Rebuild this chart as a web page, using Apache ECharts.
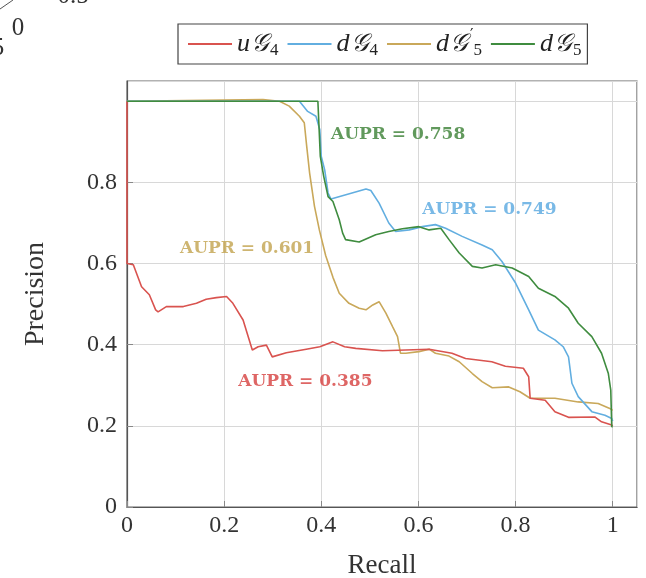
<!DOCTYPE html>
<html><head><meta charset="utf-8">
<script src="https://cdn.jsdelivr.net/npm/echarts@6/dist/echarts.min.js"></script>
<style>html,body{margin:0;padding:0;background:#fff}#c{width:646px;height:578px}</style>
</head><body><div id="c"></div>
<script>
const seriesNames = ['uG4', 'dG4', 'dG5p', 'dG5'];
const xTicks = [0, 0.2, 0.4, 0.6, 0.8, 1];
const yTicks = [0, 0.2, 0.4, 0.6, 0.8];
const aupr = [0.385, 0.749, 0.601, 0.758];
const auprPos = [[0.229, 0.31], [0.608, 0.733], [0.109, 0.638], [0.42, 0.917]];

const uG4 = [[0,1.0],[0,0.60],[0.013,0.597],[0.030,0.543],[0.046,0.523],[0.059,0.486],[0.064,0.481],[0.081,0.494],[0.116,0.494],[0.143,0.502],[0.163,0.512],[0.184,0.516],[0.205,0.519],[0.218,0.502],[0.239,0.461],[0.258,0.387],[0.270,0.395],[0.287,0.399],[0.299,0.370],[0.328,0.380],[0.369,0.389],[0.397,0.395],[0.424,0.407],[0.448,0.395],[0.471,0.391],[0.526,0.385],[0.574,0.387],[0.622,0.389],[0.669,0.379],[0.697,0.366],[0.751,0.358],[0.779,0.347],[0.816,0.342],[0.827,0.321],[0.830,0.268],[0.861,0.263],[0.881,0.235],[0.909,0.221],[0.963,0.222],[0.977,0.210],[0.998,0.202],[1.0,0.200]];
const dG4 = [[0,1.0],[0.355,1.0],[0.372,0.975],[0.389,0.963],[0.397,0.930],[0.400,0.864],[0.407,0.831],[0.414,0.774],[0.420,0.759],[0.424,0.761],[0.492,0.784],[0.502,0.780],[0.519,0.749],[0.539,0.700],[0.553,0.679],[0.581,0.683],[0.608,0.691],[0.635,0.696],[0.656,0.687],[0.690,0.667],[0.731,0.646],[0.752,0.634],[0.772,0.605],[0.800,0.552],[0.827,0.486],[0.847,0.436],[0.881,0.412],[0.898,0.395],[0.909,0.370],[0.916,0.305],[0.929,0.272],[0.957,0.235],[0.984,0.226],[0.998,0.218],[1.0,0.212]];
const dG5p = [[0,1.0],[0.280,1.004],[0.314,1.0],[0.334,0.988],[0.355,0.963],[0.365,0.947],[0.370,0.889],[0.376,0.823],[0.386,0.741],[0.396,0.683],[0.409,0.620],[0.424,0.566],[0.437,0.527],[0.457,0.502],[0.478,0.490],[0.492,0.486],[0.506,0.498],[0.519,0.506],[0.533,0.478],[0.547,0.444],[0.557,0.420],[0.563,0.379],[0.574,0.379],[0.601,0.383],[0.622,0.389],[0.635,0.379],[0.663,0.372],[0.684,0.358],[0.711,0.329],[0.731,0.309],[0.752,0.294],[0.786,0.296],[0.809,0.284],[0.830,0.268],[0.881,0.268],[0.929,0.259],[0.970,0.255],[0.994,0.243],[1.0,0.238]];
const dG5 = [[0,1.0],[0.393,1.0],[0.398,0.864],[0.405,0.815],[0.414,0.765],[0.424,0.753],[0.437,0.708],[0.444,0.675],[0.450,0.659],[0.454,0.656],[0.478,0.653],[0.512,0.671],[0.539,0.679],[0.567,0.686],[0.601,0.691],[0.622,0.683],[0.646,0.687],[0.663,0.659],[0.684,0.626],[0.711,0.593],[0.731,0.589],[0.759,0.597],[0.793,0.589],[0.827,0.568],[0.847,0.539],[0.881,0.519],[0.909,0.490],[0.929,0.453],[0.957,0.420],[0.977,0.379],[0.991,0.329],[0.996,0.288],[0.998,0.198],[1.0,0.198]];

const colors = ['#d9534f', '#62aee0', '#c9a85a', '#3f8c3f'];
const textColors = ['#d6403f', '#57a7e0', '#c2a24e', '#3a7f33'];
const serif = "'Liberation Serif','DejaVu Serif',serif";
const dataSets = [uG4, dG4, dG5p, dG5];

const legendRich = {
  it: {fontFamily: serif, fontStyle: 'italic', fontSize: 26, color: '#222', lineHeight: 30},
  g: {fontFamily: "'DejaVu Sans','Noto Sans',serif", fontStyle: 'italic', fontSize: 25, color: '#222', lineHeight: 30, padding: [0, 1, 0, 1]},
  sub: {fontFamily: serif, fontSize: 17, color: '#222', verticalAlign: 'bottom', lineHeight: 24, padding: [0, 1, 0, 0]},
  sup: {fontFamily: "'DejaVu Sans',sans-serif", fontSize: 15, color: '#222', verticalAlign: 'top', lineHeight: 28, padding: [0, 0, 0, 1]}
};
const legendLabels = {
  uG4: '{it|u}{g|\u{1D4A2}}{sub|4}',
  dG4: '{it|d}{g|\u{1D4A2}}{sub|4}',
  dG5p: '{it|d}{g|\u{1D4A2}}{sup|\u2032}{sub|5}',
  dG5: '{it|d}{g|\u{1D4A2}}{sub|5}'
};

const series = dataSets.map((d, i) => ({
  name: seriesNames[i], type: 'line', data: d, showSymbol: false, symbol: 'none',
  lineStyle: {color: colors[i], width: 1.6}, itemStyle: {color: colors[i]}, z: [4, 3, 2, 5][i], silent: true
}));
series.push({
  type: 'scatter', symbolSize: 0, silent: true, z: 10,
  data: auprPos.map((p, i) => ({
    value: p,
    label: {show: true, position: 'right', distance: 0, formatter: 'AUPR = ' + aupr[i].toFixed(3),
      color: textColors[i], fontFamily: "'DejaVu Serif',serif", fontWeight: 'bold', fontSize: 17}
  }))
});

const chart = echarts.init(document.getElementById('c'), null, {renderer: 'canvas'});
chart.setOption({
  animation: false,
  backgroundColor: '#fff',
  grid: {left: 127, right: 9, top: 81, bottom: 71, show: true, borderColor: '#666', borderWidth: 1.2,
    backgroundColor: 'transparent', containLabel: false, outerBoundsMode: 'none'},
  legend: {
    data: seriesNames, left: 178, top: 24, orient: 'horizontal', itemWidth: 44, itemHeight: 2, itemGap: 8,
    borderColor: '#444', borderWidth: 1.2, padding: [5, 5, 5, 10], icon: 'rect',
    formatter: n => legendLabels[n], textStyle: {rich: legendRich}
  },
  xAxis: {
    type: 'value', min: 0, max: 1.05, interval: 0.2,
    name: 'Recall', nameLocation: 'middle', nameGap: 45,
    nameTextStyle: {fontFamily: serif, fontSize: 27, color: '#333'},
    axisLine: {show: true, lineStyle: {color: '#555', width: 1.2}},
    axisTick: {show: true, inside: true, length: 6, lineStyle: {color: '#888'}},
    splitLine: {show: true, lineStyle: {color: '#d8d8d8', width: 1}},
    axisLabel: {fontFamily: serif, fontSize: 24, color: '#333', margin: 7,
      formatter: v => xTicks.some(t => Math.abs(t - v) < 1e-6) ? String(+v.toFixed(1)) : '',
      showMaxLabel: false}
  },
  yAxis: {
    type: 'value', min: 0, max: 1.05, interval: 0.2,
    name: 'Precision', nameLocation: 'middle', nameGap: 77, nameRotate: 90,
    nameTextStyle: {fontFamily: serif, fontSize: 28, color: '#333'},
    axisLine: {show: true, lineStyle: {color: '#555', width: 1.2}},
    axisTick: {show: true, inside: true, length: 6, lineStyle: {color: '#888'}},
    splitLine: {show: true, lineStyle: {color: '#d8d8d8', width: 1}},
    axisLabel: {fontFamily: serif, fontSize: 24, color: '#333', margin: 10,
      formatter: v => yTicks.some(t => Math.abs(t - v) < 1e-6) ? String(+v.toFixed(1)) : '',
      showMaxLabel: false}
  },
  graphic: [
    {type: 'text', style: {x: 18, y: 28, text: '0', align: 'center', verticalAlign: 'middle', font: "25px 'Liberation Serif'", fill: '#333'}},
    {type: 'text', style: {x: 73, y: -4, text: '0.5', align: 'center', verticalAlign: 'middle', font: "25px 'Liberation Serif'", fill: '#333'}},
    {type: 'text', style: {x: -2, y: 48, text: '5', align: 'center', verticalAlign: 'middle', font: "25px 'Liberation Serif'", fill: '#333'}},
    {type: 'line', shape: {x1: 0, y1: 9, x2: 13, y2: 0}, style: {stroke: '#555', lineWidth: 1}}
  ],
  series: series
});
</script></body></html>
